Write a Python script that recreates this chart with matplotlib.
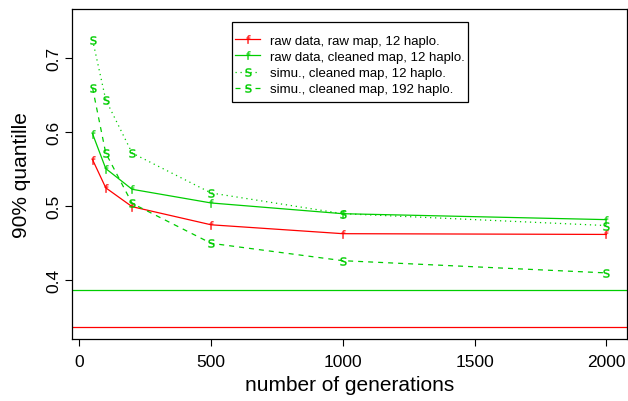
import matplotlib
matplotlib.use("Agg")
import matplotlib.pyplot as plt
from matplotlib.patches import Rectangle

plt.rcParams["font.family"] = ["Liberation Sans", "DejaVu Sans"]

generations = [50, 100, 200, 500, 1000, 2000]
raw_raw_12 = [0.563, 0.525, 0.4995, 0.475, 0.463, 0.462]
raw_clean_12 = [0.598, 0.551, 0.523, 0.5045, 0.490, 0.482]
simu_clean_12 = [0.725, 0.644, 0.572, 0.518, 0.490, 0.474]
simu_clean_192 = [0.660, 0.572, 0.504, 0.450, 0.4265, 0.410]

ref_raw = 0.3365
ref_clean = 0.3865

labels = ["raw data, raw map, 12 haplo.",
          "raw data, cleaned map, 12 haplo.",
          "simu., cleaned map, 12 haplo.",
          "simu., cleaned map, 192 haplo."]

red = "#FF0000"
green = "#00CD00"

W, H = 628, 402
fig = plt.figure(figsize=(W / 100, H / 100), dpi=100)
ax = fig.add_axes([72 / W, 1 - 340 / H, 555 / W, 330 / H])

lw = 0.9
mf = r"$\mathsf{f}$"
ms = r"$\mathsf{s}$"
msize = 6
mew = 0.2

ax.plot(generations, raw_raw_12, color=red, lw=lw, marker=mf, ms=msize, mew=mew,
        label=labels[0])
ax.plot(generations, raw_clean_12, color=green, lw=lw, marker=mf, ms=msize, mew=mew,
        label=labels[1])
ax.plot(generations, simu_clean_12, color=green, lw=lw, ls=(0, (1, 3)),
        marker=ms, ms=msize, mew=mew, label=labels[2])
ax.plot(generations, simu_clean_192, color=green, lw=lw, ls=(0, (4, 4)),
        marker=ms, ms=msize, mew=mew, label=labels[3])

ax.axhline(ref_raw, color=red, lw=lw)
ax.axhline(ref_clean, color=green, lw=lw)

ax.set_xlim(-28, 2078)
ax.set_ylim(0.3207, 0.7666)
ax.set_xticks([0, 500, 1000, 1500, 2000])
ax.set_yticks([0.4, 0.5, 0.6, 0.7])
ax.tick_params(direction="out", length=5, width=0.8, labelsize=12.5)
ax.tick_params(axis="x", pad=6)
ax.tick_params(axis="y", pad=2.5)
for t in ax.get_yticklabels():
    t.set_rotation(90)
    t.set_va("center")

for s in ax.spines.values():
    s.set_linewidth(0.9)

ax.set_xlabel("number of generations", fontsize=15, labelpad=4)
ax.set_ylabel("90% quantille", fontsize=15, labelpad=11)

# legend box drawn separately, R style
fig.patches.append(Rectangle((232 / W, 1 - 103 / H), 236 / W, 80 / H,
                             transform=fig.transFigure, facecolor="white",
                             edgecolor="black", lw=0.9, zorder=3))
leg = ax.legend(loc="upper left", bbox_to_anchor=(235 / W, 1 - 35.5 / H),
                bbox_transform=fig.transFigure, borderaxespad=0, borderpad=0,
                frameon=False, fontsize=9.5, handlelength=1.9,
                labelspacing=0.3, handletextpad=0.75)
leg.set_zorder(4)
fig.legends.append(ax.legend_)
ax.legend_ = None

fig.savefig("out.png", dpi=100)
